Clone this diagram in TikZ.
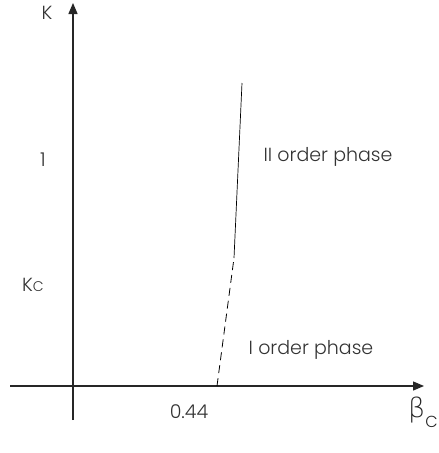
\documentclass[tikz,border=0pt]{standalone}
\usepackage{fontspec}
\setmainfont{Poppins}[UprightFont=* Light]
\newfontfamily\grk{DejaVu Sans}[UprightFont=* ExtraLight]
\usetikzlibrary{arrows.meta}
\begin{document}
\begin{tikzpicture}[x=1pt,y=-1pt,
  axis/.style={line width=1.3pt,color=black!85,-{Triangle[length=11pt,width=9pt]}},
  bound/.style={line width=0.8pt,color=black},
  lbl/.style={inner sep=0pt,font=\fontsize{19}{22}\selectfont,text=black!80}]
\useasboundingbox (0,0) rectangle (439,453);
\coordinate (ybot) at (73,420);
\coordinate (ytop) at (73,3);
\coordinate (xl) at (10,386);
\coordinate (xr) at (424,386);
\draw[axis] (ybot) -- (ytop);
\draw[axis] (xl) -- (xr);
\coordinate (p0) at (217,386);
\coordinate (p1) at (234,258);
\coordinate (p2) at (242,83);
\draw[bound,dashed,dash pattern=on 8pt off 5pt] (p0) -- (p1);
\draw[bound,line width=0.7pt] (p1) -- (p2);
\node[lbl] (K) at (47,13) {K};
\node[lbl] (one) at (43,160) {1};
\node[lbl] (Kc) at (33,285) {K\fontsize{14}{16}\selectfont C};
\node[lbl] (II) at (328,157) {II order phase};
\node[lbl] (I) at (311,350) {I order phase};
\node[lbl] (x044) at (189,412) {0.44};
\node[inner sep=0pt,anchor=west,text=black!85] (beta) at (408,412) {{\grk\fontsize{27}{30}\selectfont β}\raisebox{-10pt}{\fontsize{16}{19}\selectfont C}};
\end{tikzpicture}
\end{document}
